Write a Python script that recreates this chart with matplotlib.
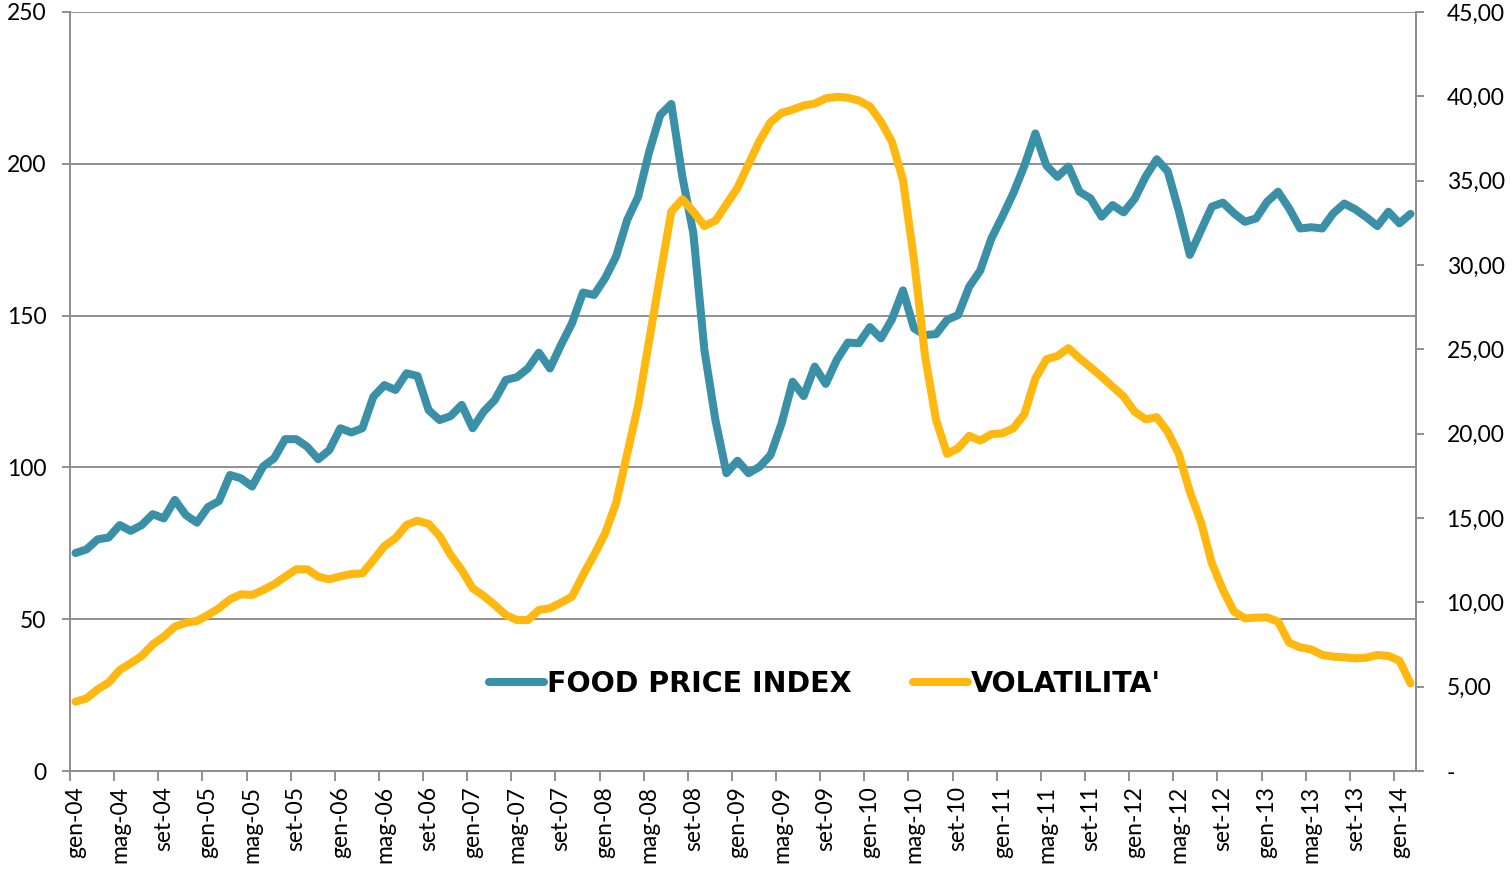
import matplotlib
matplotlib.use("Agg")
import matplotlib.pyplot as plt
import numpy as np
from matplotlib.lines import Line2D

# Monthly data, gen-04 .. feb-14
fpi = [71.8, 73.0, 76.3, 76.9, 81.0, 79.1, 81.0, 84.6, 83.2, 89.3,
       84.3, 81.8, 86.9, 88.9, 97.5, 96.4, 93.7, 100.3, 103.0, 109.3,
       109.3, 106.8, 102.7, 105.7, 112.9, 111.5, 112.9, 123.3, 127.1, 125.5,
       131.0, 130.1, 118.9, 115.6, 116.9, 120.6, 112.9, 118.4, 122.2, 128.8,
       129.7, 132.6, 137.8, 132.6, 140.3, 147.5, 157.6, 156.8, 162.3, 169.5,
       181.5, 189.2, 204.0, 216.1, 219.7, 195.8, 177.1, 138.7, 115.6, 98.1,
       102.2, 98.1, 100.2, 104.1, 114.5, 128.2, 123.5, 133.2, 127.5, 135.4,
       141.1, 140.9, 146.2, 142.5, 148.8, 158.3, 145.8, 143.6, 143.9, 148.6,
       150.2, 159.5, 164.8, 175.3, 182.6, 190.3, 199.3, 210.0, 199.4, 195.7,
       199.1, 190.8, 188.6, 182.6, 186.4, 184.0, 188.5, 195.8, 201.5, 197.5,
       184.5, 170.0, 178.0, 185.9, 187.2, 183.7, 180.9, 182.0, 187.5, 190.8,
       185.3, 178.7, 179.1, 178.7, 183.7, 186.9, 185.0, 182.4, 179.5, 184.2,
       180.4, 183.5]

volatilita = [4.11, 4.31, 4.84, 5.24, 5.99, 6.39, 6.82, 7.51, 7.96, 8.56,
              8.79, 8.89, 9.25, 9.65, 10.18, 10.48, 10.44, 10.73, 11.07, 11.52,
              11.96, 11.96, 11.52, 11.37, 11.54, 11.68, 11.72, 12.51, 13.34, 13.80,
              14.59, 14.84, 14.65, 13.94, 12.81, 11.92, 10.83, 10.38, 9.84, 9.25,
              8.95, 8.95, 9.55, 9.65, 9.98, 10.34, 11.62, 12.81, 14.09, 15.9,
              18.8, 21.7, 25.55, 29.4, 33.16, 33.9, 33.16, 32.31, 32.63, 33.6,
              34.58, 35.98, 37.36, 38.47, 39.02, 39.21, 39.46, 39.57, 39.88, 39.97,
              39.92, 39.75, 39.4, 38.5, 37.3, 35.04, 30.3, 24.6, 20.81, 18.8,
              19.14, 19.87, 19.59, 19.97, 20.02, 20.32, 21.15, 23.28, 24.41, 24.61,
              25.07, 24.47, 23.94, 23.38, 22.79, 22.2, 21.3, 20.85, 20.98, 20.1,
              18.8, 16.56, 14.78, 12.31, 10.73, 9.45, 9.05, 9.09, 9.11, 8.85,
              7.61, 7.33, 7.21, 6.88, 6.78, 6.74, 6.68, 6.72, 6.88, 6.82,
              6.54, 5.2]

tick_labels = ["gen-04", "mag-04", "set-04", "gen-05", "mag-05", "set-05",
               "gen-06", "mag-06", "set-06", "gen-07", "mag-07", "set-07",
               "gen-08", "mag-08", "set-08", "gen-09", "mag-09", "set-09",
               "gen-10", "mag-10", "set-10", "gen-11", "mag-11", "set-11",
               "gen-12", "mag-12", "set-12", "gen-13", "mag-13", "set-13",
               "gen-14"]

left_ticks = [0, 50, 100, 150, 200, 250]
right_ticks = [0, 5, 10, 15, 20, 25, 30, 35, 40, 45]
right_labels = ["-", "5,00", "10,00", "15,00", "20,00", "25,00", "30,00",
                "35,00", "40,00", "45,00"]

series_names = ["FOOD PRICE INDEX", "VOLATILITA'"]
TEAL = "#3a91a7"
ORANGE = "#ffb80f"
GRID = "#8f8f8f"
LW = 5.8

fig = plt.figure(figsize=(15.12, 8.69), dpi=100)
ax = fig.add_axes([70 / 1512, 1 - 771 / 869, (1416 - 70) / 1512, (771 - 12) / 869])
ax2 = ax.twinx()

n = len(fpi)
x = np.arange(n)

ax.plot(x, fpi, color=TEAL, lw=LW, solid_capstyle="round",
        solid_joinstyle="round", zorder=3)
ax2.plot(x, volatilita, color=ORANGE, lw=LW, solid_capstyle="round",
         solid_joinstyle="round", zorder=3)

ax.set_xlim(-0.5, n - 0.5)
ax.set_ylim(0, 250)
ax2.set_ylim(0, 45)

tick_font = "Lato"
fs = 16.5

# y axes
ax.set_yticks(left_ticks)
ax.set_yticklabels([str(v) for v in left_ticks], fontsize=fs, family=tick_font)
ax.tick_params(axis="y", direction="out", length=6, width=1.4, color=GRID, pad=11)
ax2.set_yticks(right_ticks)
ax2.set_yticklabels(right_labels, fontsize=fs, family=tick_font)
ax2.tick_params(axis="y", direction="out", length=6, width=1.4, color=GRID, pad=16)

# x axis: ticks at category boundaries, labels at categories
major_pos = np.arange(-0.5, n - 1, 4)
ax.set_xticks(major_pos)
ax.set_xticklabels([""] * len(major_pos))
label_pos = np.arange(0, n, 4)[:len(tick_labels)]
ax.set_xticks(label_pos, minor=True)
ax.set_xticklabels(tick_labels, minor=True, rotation=90, fontsize=fs,
                   family=tick_font, ha="center", va="top")
ax.tick_params(axis="x", which="major", direction="out", length=7, width=1.4, color=GRID)
ax.tick_params(axis="x", which="minor", length=0, pad=11)

ax.yaxis.grid(True, color=GRID, lw=1.4)
ax.set_axisbelow(True)

for a in (ax, ax2):
    a.spines["top"].set_visible(False)
    for s in ("left", "right", "bottom"):
        a.spines[s].set_color(GRID)
        a.spines[s].set_linewidth(1.4)

handles = [Line2D([], [], color=TEAL, lw=LW, solid_capstyle="round"),
           Line2D([], [], color=ORANGE, lw=LW, solid_capstyle="round")]
leg = fig.legend(handles, series_names, loc="center",
                 bbox_to_anchor=(825 / 1512, 1 - 684 / 869), ncol=2,
                 frameon=False, handlelength=1.95, handletextpad=0.1,
                 columnspacing=2.15, borderpad=0,
                 prop={"family": "DejaVu Sans", "weight": "bold", "size": 20.5})

fig.savefig("out.png", dpi=100)
